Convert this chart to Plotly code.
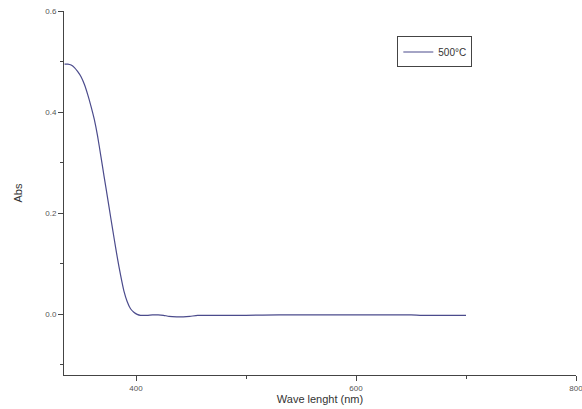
import plotly.graph_objects as go

wavelength = [335, 338, 341, 344, 347, 350, 353, 356, 359, 362, 365, 368, 371, 374, 377,
              380, 383, 386, 389, 392, 395, 398, 401, 404, 410, 415, 420, 425, 430, 437,
              443, 449, 456, 470, 500, 530, 560, 600, 650, 660, 700]
absorbance = [0.495, 0.495, 0.493, 0.488, 0.480, 0.470, 0.455, 0.435, 0.412, 0.386, 0.353,
              0.313, 0.272, 0.232, 0.191, 0.151, 0.112, 0.077, 0.046, 0.025, 0.011, 0.004,
              0.000, -0.002, -0.002, -0.001, -0.001, -0.002, -0.004, -0.005, -0.005, -0.004,
              -0.002, -0.002, -0.002, -0.001, -0.001, -0.001, -0.001, -0.002, -0.002]
series_name = "500°C"

fig = go.Figure()
fig.add_trace(go.Scatter(x=wavelength, y=absorbance, mode="lines", name=series_name,
                         line=dict(color="#4b4b8c", width=1.2, shape="spline", smoothing=0.5)))

font_family = "Liberation Sans, Arial, sans-serif"
axis_font = dict(family=font_family, size=8, color="#555")
fig.update_layout(
    width=582, height=409,
    margin=dict(l=64, r=6, t=11, b=34, autoexpand=False),
    paper_bgcolor="white", plot_bgcolor="white",
    showlegend=True,
    legend=dict(x=0.651, y=0.93, xanchor="left", yanchor="top",
                bordercolor="#444", borderwidth=1, bgcolor="white",
                font=dict(family=font_family, size=10, color="#333"),
                itemwidth=30, tracegroupgap=0),
    xaxis=dict(range=[334.5, 800], showgrid=False, zeroline=False, showline=True,
               linecolor="#444", linewidth=1, ticks="outside", ticklen=5, tickcolor="#444",
               tick0=0, dtick=200, tickfont=axis_font, ticklabeloverflow="allow",
               automargin=False,
               minor=dict(ticks="outside", ticklen=3, dtick=100, tickcolor="#444"),
               title=dict(text="Wave lenght (nm)", standoff=1,
                          font=dict(family=font_family, size=11, color="#333"))),
    yaxis=dict(range=[-0.12, 0.6], showgrid=False, zeroline=False, showline=True,
               linecolor="#444", linewidth=1, ticks="outside", ticklen=5, tickcolor="#444",
               tick0=0, dtick=0.2, tickformat=".1f", tickfont=axis_font,
               automargin=False,
               minor=dict(ticks="outside", ticklen=3, dtick=0.1, tickcolor="#444"),
               title=dict(text="Abs", standoff=20,
                          font=dict(family=font_family, size=11, color="#333"))),
)

fig.write_html("out.html")
